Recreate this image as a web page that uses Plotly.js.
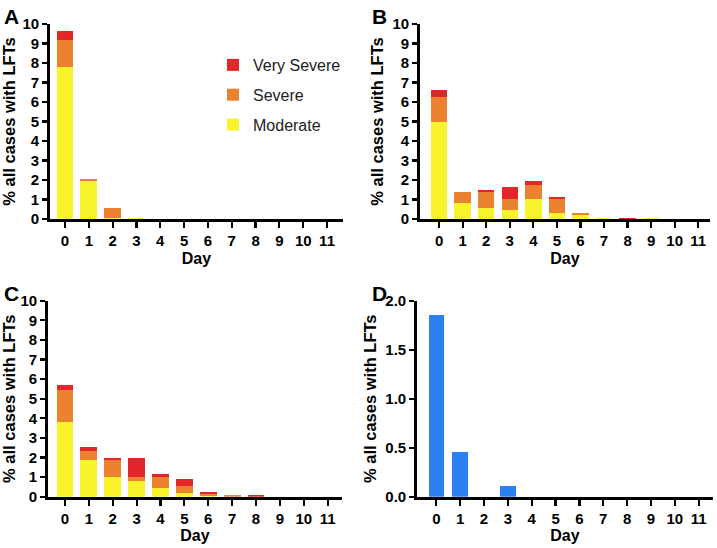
<!DOCTYPE html>
<html>
<head>
<meta charset="utf-8">
<script src="https://cdn.plot.ly/plotly-3.0.1.min.js"></script>
<style>html,body{margin:0;padding:0;background:#fff;}#chart{width:717px;height:548px;}</style>
</head>
<body>
<div id="chart"></div>
<script>
const days = [0,1,2,3,4,5,6,7,8,9,10,11];
const dayLabels = ["0","1","2","3","4","5","6","7","8","9","10","11"];

// Panel A
const aModerate   = [7.80, 1.97, 0.05, 0.03, 0, 0, 0, 0, 0, 0, 0, 0];
const aSevere     = [1.40, 0.10, 0.52, 0.02, 0, 0, 0, 0, 0, 0, 0, 0];
const aVerySevere = [0.45, 0.00, 0.00, 0.00, 0, 0, 0, 0, 0, 0, 0, 0];
// Panel B
const bModerate   = [5.00, 0.80, 0.57, 0.45, 1.03, 0.33, 0.20, 0.05, 0.00, 0.04, 0, 0];
const bSevere     = [1.27, 0.57, 0.83, 0.57, 0.72, 0.72, 0.12, 0.00, 0.00, 0.00, 0, 0];
const bVerySevere = [0.35, 0.00, 0.10, 0.60, 0.22, 0.10, 0.00, 0.00, 0.05, 0.00, 0, 0];
// Panel C
const cModerate   = [3.83, 1.85, 1.03, 0.80, 0.45, 0.20, 0.02, 0.00, 0.00, 0, 0, 0];
const cSevere     = [1.62, 0.48, 0.82, 0.23, 0.58, 0.35, 0.10, 0.07, 0.00, 0, 0, 0];
const cVerySevere = [0.23, 0.22, 0.10, 0.93, 0.12, 0.37, 0.10, 0.00, 0.08, 0, 0, 0];
// Panel D
const dValues     = [1.85, 0.46, 0.00, 0.11, 0, 0, 0, 0, 0, 0, 0, 0];

const seriesNames = ["Moderate", "Severe", "Very Severe"];
const seriesColors = ["#f8f32b", "#ea8230", "#e4262b"];
const seriesRanks = [3, 2, 1];
const blue = "#2b80f6";

const FONT = "Liberation Sans, Arial, Helvetica, sans-serif";
const traces = [];
const panels = [
  {xa: "x",  ya: "y",  data: [aModerate, aSevere, aVerySevere], legend: true},
  {xa: "x2", ya: "y2", data: [bModerate, bSevere, bVerySevere], legend: false},
  {xa: "x3", ya: "y3", data: [cModerate, cSevere, cVerySevere], legend: false}
];
panels.forEach(p => {
  p.data.forEach((vals, i) => {
    traces.push({
      type: "bar", x: days, y: vals, name: seriesNames[i],
      xaxis: p.xa, yaxis: p.ya, width: 0.7,
      marker: {color: seriesColors[i], line: {width: 0}},
      legendgroup: seriesNames[i], legendrank: seriesRanks[i], showlegend: p.legend,
      hoverinfo: "skip"
    });
  });
});
traces.push({
  type: "bar", x: days, y: dValues, name: "All", xaxis: "x4", yaxis: "y4",
  width: 0.65, marker: {color: blue, line: {width: 0}}, showlegend: false, hoverinfo: "skip"
});

function xAxis(domain, range, anchor) {
  return {
    domain: domain, range: range, anchor: anchor,
    tickmode: "array", tickvals: days, ticktext: dayLabels,
    showline: true, linecolor: "#000", linewidth: 2.8,
    ticks: "outside", ticklen: 6, tickwidth: 2.2, tickcolor: "#000",
    showgrid: false, zeroline: false,
    tickfont: {family: FONT, size: 15, color: "#000", weight: "bold"},
    title: {text: "Day", font: {family: FONT, size: 16, color: "#000", weight: "bold"}, standoff: 5},
    fixedrange: true
  };
}
function yAxis(domain, range, anchor, dtick, fmt) {
  return {
    domain: domain, range: range, anchor: anchor,
    tickmode: "linear", tick0: 0, dtick: dtick, tickformat: fmt,
    showline: true, linecolor: "#000", linewidth: 2.8,
    ticks: "outside", ticklen: 5, tickwidth: 2.2, tickcolor: "#000",
    showgrid: false, zeroline: false,
    tickfont: {family: FONT, size: 15, color: "#000", weight: "bold"},
    title: {text: "% all cases with LFTs", font: {family: FONT, size: 16.5, color: "#000", weight: "bold"}, standoff: 5},
    fixedrange: true
  };
}

const W = 717, H = 548;
const topY = [1 - 219/H, 1 - 24/H];
const botY = [1 - 496.7/H, 1 - 300.7/H];

const layout = {
  width: W, height: H,
  margin: {l: 0, r: 0, t: 0, b: 0},
  paper_bgcolor: "#fff", plot_bgcolor: "rgba(0,0,0,0)",
  barmode: "stack",
  font: {family: FONT, color: "#000"},
  xaxis:  xAxis([50/W, 343/W], [-0.63, 11.67], "y"),
  yaxis:  yAxis(topY, [0, 10], "x", 1, "d"),
  xaxis2: xAxis([420/W, 710/W], [-0.81, 11.5], "y2"),
  yaxis2: yAxis(topY, [0, 10], "x2", 1, "d"),
  xaxis3: xAxis([48/W, 342/W], [-0.71, 11.6], "y3"),
  yaxis3: yAxis(botY, [0, 10], "x3", 1, "d"),
  xaxis4: xAxis([417/W, 713/W], [-0.81, 11.6], "y4"),
  yaxis4: yAxis(botY, [0, 2], "x4", 0.5, ".1f"),
  showlegend: true,
  legend: {
    x: 213/W, y: 1 - 48/H, xanchor: "left", yanchor: "top",
    traceorder: "grouped", tracegroupgap: 6,
    font: {family: FONT, size: 16, color: "#222"},
    bgcolor: "rgba(0,0,0,0)", borderwidth: 0
  },
  annotations: [
    {text: "A", x: 2/W, y: 1 - 3/H, xref: "paper", yref: "paper", xanchor: "left", yanchor: "top", showarrow: false, font: {family: FONT, size: 21, color: "#000", weight: "bold"}},
    {text: "B", x: 370/W, y: 1 - 3/H, xref: "paper", yref: "paper", xanchor: "left", yanchor: "top", showarrow: false, font: {family: FONT, size: 21, color: "#000", weight: "bold"}},
    {text: "C", x: 2/W, y: 1 - 280/H, xref: "paper", yref: "paper", xanchor: "left", yanchor: "top", showarrow: false, font: {family: FONT, size: 21, color: "#000", weight: "bold"}},
    {text: "D", x: 370/W, y: 1 - 280/H, xref: "paper", yref: "paper", xanchor: "left", yanchor: "top", showarrow: false, font: {family: FONT, size: 21, color: "#000", weight: "bold"}}
  ]
};

Plotly.newPlot("chart", traces, layout, {displayModeBar: false, staticPlot: true});
</script>
</body>
</html>
